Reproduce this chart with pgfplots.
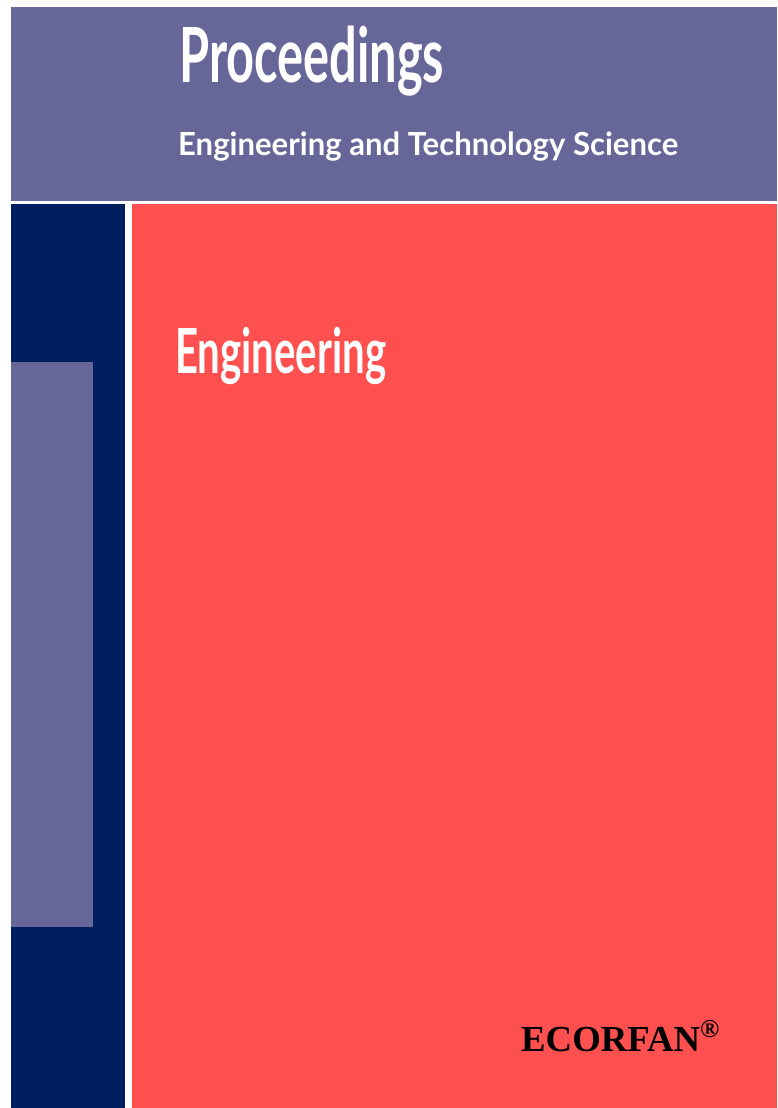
\documentclass[border=0pt]{standalone}
\usepackage{pgfplots}
\pgfplotsset{compat=1.18}
\usepackage{fontspec}
\setmainfont{Liberation Serif}
\newfontfamily\coverfont{Lato}
\definecolor{band}{RGB}{102,102,153}
\definecolor{navy}{RGB}{0,31,94}
\definecolor{coral}{RGB}{255,80,80}
\newcommand{\captext}[3]{\resizebox{#1pt}{#2pt}{\raisebox{0pt}[\fontcharht\font`E][0pt]{#3}}}
\begin{document}
\begin{tikzpicture}
\begin{axis}[
  width=777pt, height=1108pt, scale only axis,
  xmin=0, xmax=777, ymin=0, ymax=1108, y dir=reverse,
  axis lines=none, ticks=none, enlargelimits=false, clip=false]
% white page
\addplot[fill=white, draw=none] coordinates {(0,0) (777,0) (777,1108) (0,1108)} -- cycle;
% top band
\addplot[fill=band, draw=none] coordinates {(11,7) (777,7) (777,200.5) (11,200.5)} -- cycle;
% navy column
\addplot[fill=navy, draw=none] coordinates {(11,204) (124.5,204) (124.5,1108) (11,1108)} -- cycle;
% coral panel
\addplot[fill=coral, draw=none] coordinates {(131.5,204) (777,204) (777,1108) (131.5,1108)} -- cycle;
% light purple inset
\addplot[fill=band, draw=none] coordinates {(11,362) (93,362) (93,927) (11,927)} -- cycle;
% texts
\node[anchor=base west, inner sep=0pt, text=white] at (axis cs:179,83)
  {\coverfont\bfseries\captext{265}{55}{Proceedings}};
\node[anchor=base west, inner sep=0pt, text=white] at (axis cs:178,155)
  {\coverfont\bfseries\captext{500}{23}{Engineering and Technology Science}};
\node[anchor=base west, inner sep=0pt, text=white] at (axis cs:175,373)
  {\coverfont\bfseries\captext{211}{45}{Engineering}};
\node[anchor=base west, inner sep=0pt, text=black] at (axis cs:521,1051)
  {\bfseries\captext{200}{24}{ECORFAN\textsuperscript{®}}};
\end{axis}
\end{tikzpicture}
\end{document}
